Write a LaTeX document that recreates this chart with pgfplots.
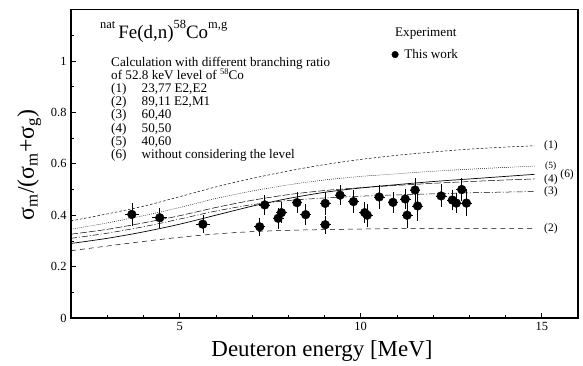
\documentclass[border=0pt]{standalone}
\usepackage{pgfplots}
\pgfplotsset{compat=1.18}
\usepackage{fontspec}
\setmainfont{Liberation Serif}
\usetikzlibrary{calc}
\tikzset{
  calc/.style={anchor=base west, inner sep=0pt, font=\fontsize{13.2}{13.2}\selectfont},
  lab/.style={anchor=west, inner sep=0pt, font=\fontsize{11.5}{11.5}\selectfont},
}
\newcommand{\tsup}[1]{\raisebox{0.55em}{\fontsize{12.5}{12.5}\selectfont #1}}
\newcommand{\ssup}[1]{\raisebox{0.38em}{\fontsize{8.5}{8.5}\selectfont #1}}
\begin{document}
\begin{tikzpicture}
\begin{axis}[
  scale only axis, width=507bp, height=308.4bp,
  xmin=2, xmax=16, ymin=0, ymax=1.2,
  clip=false,
  axis line style={line width=1.3pt},
  xtick={5,10,15}, minor xtick={3,4,6,7,8,9,11,12,13,14,16},
  ytick={0,0.2,0.4,0.6,0.8,1}, yticklabels={0,0.2,0.4,0.6,0.8,1},
  minor ytick={0.1,0.3,0.5,0.7,0.9,1.1},
  tick align=inside, xtick pos=bottom, ytick pos=left,
  major tick length=5bp, minor tick length=3bp,
  tick style={line width=0.6pt, black},
  /pgf/number format/assume math mode=true,
  tick label style={font=\fontsize{12.5}{12.5}\selectfont},
  xticklabel style={yshift=-1bp},
  yticklabel style={xshift=-1bp},
]
\coordinate (BL) at (rel axis cs:0,0);
\coordinate (TR) at (rel axis cs:1,1);
% (1)
\addplot[smooth, line width=0.5pt, dash pattern=on 2.5pt off 2pt] coordinates {
(2,0.378) (3,0.405) (4,0.435) (5,0.472) (6,0.51) (7,0.543) (8,0.572) (9,0.597) (10,0.617) (11,0.633) (12,0.646) (13,0.657) (14,0.665) (14.8,0.67)};
% (5)
\addplot[smooth, line width=0.5pt, dash pattern=on 0.8pt off 1.2pt] coordinates {
(2,0.345) (3,0.37) (4,0.398) (5,0.43) (6,0.465) (7,0.494) (8,0.518) (9,0.537) (10,0.551) (11,0.561) (12,0.571) (13,0.579) (14,0.586) (14.8,0.591)};
% (6)
\addplot[smooth, line width=0.7pt] coordinates {
(2,0.29) (3,0.31) (4,0.335) (5,0.365) (6,0.40) (7,0.435) (8,0.465) (9,0.489) (10,0.506) (11,0.519) (12,0.531) (13,0.541) (14,0.551) (14.8,0.559)};
% (4)
\addplot[smooth, line width=0.5pt, dash pattern=on 7pt off 2pt] coordinates {
(2,0.326) (3,0.345) (4,0.37) (5,0.398) (6,0.43) (7,0.458) (8,0.48) (9,0.496) (10,0.507) (11,0.516) (12,0.524) (13,0.531) (14,0.537) (14.8,0.541)};
% (3)
\addplot[smooth, line width=0.5pt, dash pattern=on 6pt off 2pt on 1pt off 2pt] coordinates {
(2,0.31) (3,0.33) (4,0.355) (5,0.385) (6,0.416) (7,0.441) (8,0.457) (9,0.467) (10,0.474) (11,0.479) (12,0.483) (13,0.487) (14,0.49) (14.8,0.492)};
% (2)
\addplot[smooth, line width=0.5pt, dash pattern=on 5pt off 4pt] coordinates {
(2,0.262) (3,0.28) (4,0.298) (5,0.314) (6,0.327) (7,0.336) (8,0.341) (9,0.344) (10,0.346) (11,0.348) (12,0.349) (13,0.349) (14,0.349) (14.8,0.349)};
% experiment
\addplot[only marks, mark=*, mark size=4.4pt, black,
  error bars/.cd, x dir=both, x explicit, y dir=both, y explicit,
  error mark=none, error bar style={line width=0.6pt}]
  table[x=E, y=R, x error=dE, y error=dR] {
E R dE dR
3.68 0.403 0.2 0.045
4.45 0.390 0.2 0.038
5.64 0.365 0.2 0.035
7.21 0.355 0.15 0.035
7.35 0.440 0.15 0.04
7.72 0.388 0.15 0.04
7.81 0.410 0.15 0.04
8.24 0.449 0.15 0.04
8.48 0.402 0.15 0.04
9.02 0.446 0.15 0.045
9.02 0.363 0.15 0.035
9.43 0.478 0.15 0.04
9.80 0.453 0.15 0.045
10.11 0.410 0.15 0.04
10.18 0.400 0.15 0.045
10.51 0.471 0.15 0.045
10.89 0.450 0.15 0.04
11.23 0.463 0.15 0.04
11.28 0.400 0.15 0.05
11.50 0.498 0.15 0.045
11.57 0.436 0.15 0.06
12.22 0.475 0.15 0.045
12.53 0.459 0.15 0.04
12.64 0.447 0.15 0.04
12.79 0.500 0.15 0.045
12.92 0.447 0.15 0.05
};
% curve labels
\node[lab] at (rel axis cs:0.933,0.558) {(1)};
\node[lab, font=\fontsize{9.5}{9.5}\selectfont] at (rel axis cs:0.935,0.493) {(5)};
\node[lab] at (rel axis cs:0.933,0.447) {(4)};
\node[lab] at (rel axis cs:0.965,0.464) {(6)};
\node[lab] at (rel axis cs:0.933,0.410) {(3)};
\node[lab] at (rel axis cs:0.933,0.291) {(2)};
% title
\node[anchor=base west, inner sep=0pt, font=\fontsize{19}{19}\selectfont] at (rel axis cs:0.057,0.906)
  {\tsup{nat}\,Fe(d,n)\tsup{58}Co\tsup{m,g}};
% calculation text
\node[calc] at (rel axis cs:0.079,0.8171) {Calculation with different branching ratio};
\node[calc] at (rel axis cs:0.079,0.7743) {of 52.8 keV level of \ssup{58}Co};
\node[calc] at (rel axis cs:0.079,0.7315) {\makebox[30.5bp][l]{(1)}23,77 E2,E2};
\node[calc] at (rel axis cs:0.079,0.6887) {\makebox[30.5bp][l]{(2)}89,11 E2,M1};
\node[calc] at (rel axis cs:0.079,0.6459) {\makebox[30.5bp][l]{(3)}60,40};
\node[calc] at (rel axis cs:0.079,0.6031) {\makebox[30.5bp][l]{(4)}50,50};
\node[calc] at (rel axis cs:0.079,0.5603) {\makebox[30.5bp][l]{(5)}40,60};
\node[calc] at (rel axis cs:0.079,0.5175) {\makebox[30.5bp][l]{(6)}without considering the level};
% legend
\node[calc] at (rel axis cs:0.639,0.912) {Experiment};
\addplot[only marks, mark=*, mark size=3.3pt, black, forget plot] coordinates {(10.95,1.025)};
\node[calc] at (rel axis cs:0.657,0.842) {This work};
% axis labels
\node[anchor=base, font=\fontsize{23}{23}\selectfont] at (rel axis cs:0.495,-0.126) {Deuteron energy [MeV]};
\node[rotate=90, anchor=base, font=\fontsize{24}{24}\selectfont] at (rel axis cs:-0.073,0.496)
  {σ\textsubscript{m}/(σ\textsubscript{m}+σ\textsubscript{g})};
\end{axis}
\pgfresetboundingbox
\path ($(BL)+(-71bp,-48bp)$) rectangle ($(TR)+(5bp,9.6bp)$);
\end{tikzpicture}
\end{document}
